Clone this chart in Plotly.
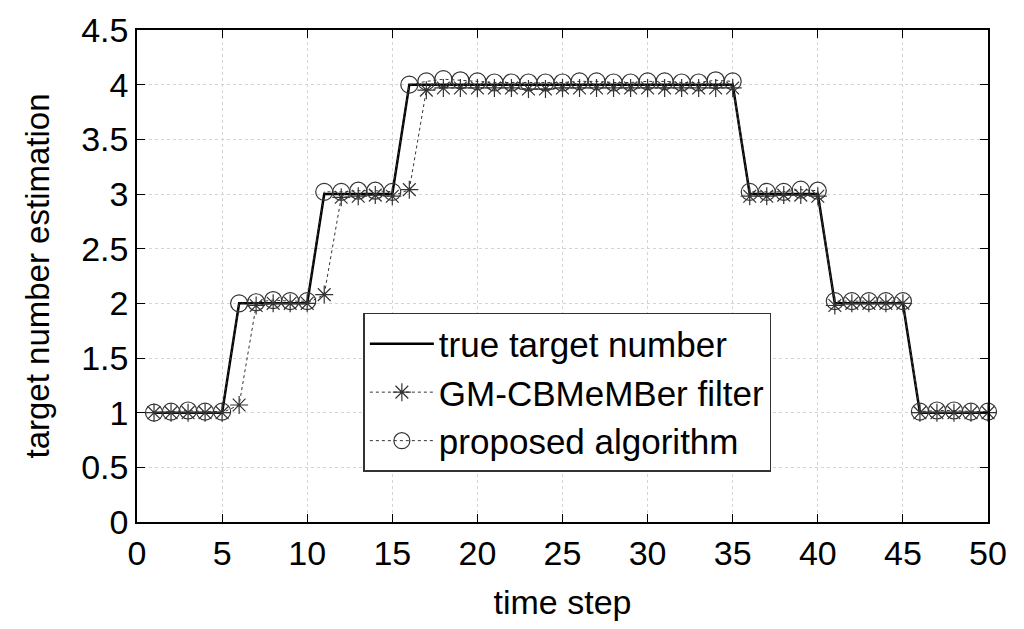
import plotly.graph_objects as go

time_steps = list(range(1, 51))
true_number = [1]*5 + [2]*5 + [3]*5 + [4]*20 + [3]*5 + [2]*5 + [1]*5
gm_cbmember = ([1.0, 1.0, 1.0, 1.0, 1.0,
                1.07, 1.98, 2.0, 2.0, 2.0,
                2.08, 2.97, 2.98, 2.99, 2.98,
                3.04, 3.95, 3.97, 3.97, 3.97, 3.97, 3.97, 3.96, 3.96, 3.97,
                3.97, 3.97, 3.97, 3.97, 3.97, 3.97, 3.97, 3.97, 3.97, 3.97,
                2.98, 2.98, 2.99, 2.99, 2.98,
                1.98, 2.0, 2.0, 2.0, 2.0,
                1.0, 1.0, 1.0, 1.0, 1.0])
proposed = ([1.0, 1.01, 1.02, 1.01, 1.01,
             2.0, 2.01, 2.03, 2.02, 2.02,
             3.02, 3.02, 3.03, 3.03, 3.02,
             4.0, 4.03, 4.05, 4.04, 4.03, 4.02, 4.02, 4.02, 4.02, 4.02,
             4.03, 4.03, 4.02, 4.02, 4.03, 4.03, 4.02, 4.02, 4.04, 4.03,
             3.02, 3.02, 3.02, 3.04, 3.03,
             2.02, 2.02, 2.02, 2.02, 2.02,
             1.01, 1.02, 1.02, 1.01, 1.01])

x_ticks = list(range(0, 51, 5))
y_ticks = [0, 0.5, 1, 1.5, 2, 2.5, 3, 3.5, 4, 4.5]

FONT = "Liberation Sans, Arial"

fig = go.Figure()
fig.add_trace(go.Scatter(x=time_steps, y=true_number, mode="lines",
                         name="true target number", cliponaxis=False,
                         line=dict(color="black", width=2.5)))
fig.add_trace(go.Scatter(x=time_steps, y=gm_cbmember, mode="lines+markers",
                         name="GM-CBMeMBer filter", cliponaxis=False,
                         line=dict(color="#333", width=1, dash="dot"),
                         marker=dict(symbol="asterisk-open", size=15,
                                     line=dict(color="black", width=1.2))))
fig.add_trace(go.Scatter(x=time_steps, y=proposed, mode="lines+markers",
                         name="proposed algorithm", cliponaxis=False,
                         line=dict(color="#333", width=1, dash="dot"),
                         marker=dict(symbol="circle-open", size=17,
                                     line=dict(color="#222", width=1.2))))

axis_common = dict(showline=True, linecolor="black", linewidth=1.5,
                   mirror="ticks", ticks="inside", ticklen=8,
                   tickcolor="black", showgrid=True, gridcolor="#d4d4d4",
                   griddash="dot", gridwidth=1, zeroline=False,
                   automargin=False,
                   tickfont=dict(family=FONT, size=34, color="black"))

fig.update_layout(
    width=1008, height=613,
    margin=dict(l=129, r=28, t=22, b=99),
    paper_bgcolor="white", plot_bgcolor="white",
    font=dict(family=FONT, color="black"),
    xaxis=dict(range=[0, 50], tickvals=x_ticks,
               title=dict(text="time step", font=dict(size=34), standoff=20),
               **axis_common),
    yaxis=dict(range=[0, 4.5], tickvals=y_ticks,
               title=dict(text="target number estimation", font=dict(size=33), standoff=22),
               **axis_common),
    legend=dict(x=0.266, y=0.425, xanchor="left", yanchor="top",
                bgcolor="white", bordercolor="#333", borderwidth=1.5,
                font=dict(size=35, family=FONT),
                itemwidth=64, tracegroupgap=0),
    showlegend=True,
)

fig.write_html("out.html")
